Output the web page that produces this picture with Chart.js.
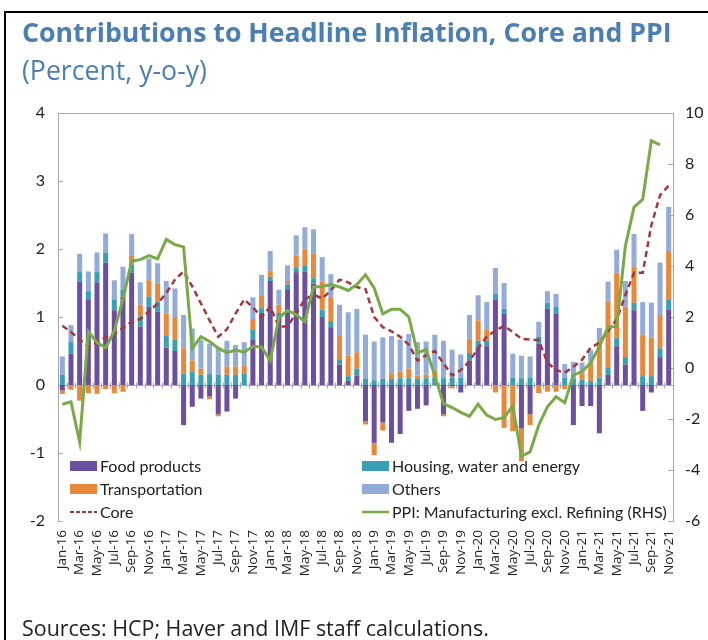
<!DOCTYPE html>
<html>
<head>
<meta charset="utf-8">
<script src="https://cdn.jsdelivr.net/npm/chart.js@4"></script>
<style>
body{margin:0;width:708px;height:640px;overflow:hidden;background:#fff;font-family:"Open Sans",sans-serif;position:relative}
#frame{position:absolute;left:4px;top:11px;width:740px;height:700px;border:2px solid #000}
#title{position:absolute;left:22px;top:16px;font-weight:bold;font-size:26px;color:#4b7fb1;white-space:nowrap;line-height:1.2}
#sub{position:absolute;left:22px;top:54px;font-size:22px;color:#4b7fb1;white-space:nowrap;line-height:1.2}
#src{position:absolute;left:22px;top:615px;font-size:20px;color:#222;white-space:nowrap;line-height:1.2}
canvas{position:absolute;left:0;top:0}
</style>
</head>
<body>
<div id="frame"></div>
<canvas id="chart" width="708" height="640"></canvas>
<div id="title">Contributions to Headline Inflation, Core and PPI</div>
<div id="sub">(Percent, y-o-y)</div>
<div id="src">Sources: HCP; Haver and IMF staff calculations.</div>
<script>
let monthNames=["Jan","Feb","Mar","Apr","May","Jun","Jul","Aug","Sep","Oct","Nov","Dec"];
let years=["16","17","18","19","20","21"];
let labels=[];
years.forEach(y=>{
monthNames.forEach(m=>{
labels.push(m+"-"+y);
});
});
labels=labels.slice(0,71);

let food=[
-0.08,0.46,1.52,1.25,1.51,1.80,1.10,1.30,1.65,0.86,1.15,1.08,
0.55,0.50,-0.59,-0.32,-0.20,-0.17,-0.43,-0.39,-0.20,0,0.67,1.06,
1.53,0.99,1.41,1.66,1.67,1.49,1.00,0.85,0.30,0.06,0.14,-0.53,
-0.85,-0.55,-0.85,-0.72,-0.38,-0.35,-0.30,0,-0.43,-0.02,-0.11,0.36,
0.55,0.57,1.26,1.05,0,-0.64,-0.43,0.61,1.12,1.05,0,-0.59,
-0.31,-0.31,-0.71,0.15,0.57,0.30,1.10,-0.38,-0.11,0.41,1.11];

let housing=[
0.15,0.17,0.14,0.13,0.15,0.15,0.16,0.10,0.12,0.15,0.15,0.14,
0.17,0.17,0.17,0.19,0.15,0.16,0.15,0.15,0.15,0.17,0.15,0.07,
0.06,0.07,0.07,0.06,0.08,0.08,0.11,0.09,0.08,0.07,0.10,0.09,
0.07,0.09,0.09,0.10,0.10,0.09,0.10,0.11,0.10,0.11,0.11,0.11,
0.10,0.08,0.08,0.07,0.11,0.10,0.11,0.10,0.09,0.10,0.11,0.10,
0.08,0.06,0.11,0.10,0.12,0.11,0.11,0.13,0.13,0.13,0.14];

let transport=[
-0.05,-0.07,-0.23,-0.12,-0.13,-0.06,-0.12,-0.10,0.13,0.17,0.24,0.27,
0.33,0.33,0.37,0.17,0.09,-0.04,-0.03,0.12,0.12,0.12,0.15,0.18,
0.09,0.12,0.05,0.18,0.24,0.36,0.41,0.34,0.34,0.30,0.24,-0.05,
-0.18,-0.12,0.07,0.10,0.14,0.05,0.05,0.10,-0.03,-0.03,0,0.21,
0.30,0.17,-0.11,-0.63,-0.68,-0.48,-0.16,-0.12,-0.10,-0.10,-0.06,0,
0.08,0.27,0.55,0.97,0.96,0.74,0.53,0.61,0.57,0.49,0.72];

let others=[
0.27,0.25,0.27,0.29,0.29,0.28,0.28,0.34,0.32,0.33,0.32,0.30,
0.48,0.42,0.49,0.47,0.42,0.45,0.40,0.38,0.32,0.34,0.32,0.31,
0.29,0.22,0.23,0.30,0.33,0.36,0.36,0.35,0.46,0.64,0.64,0.65,
0.57,0.61,0.56,0.47,0.51,0.49,0.49,0.53,0.55,0.41,0.34,0.35,
0.37,0.40,0.38,0.38,0.35,0.33,0.31,0.22,0.17,0.19,0.20,0.24,
0.17,0.18,0.18,0.30,0.34,0.38,0.48,0.48,0.51,0.77,0.65];

let core=[
0.87,0.78,0.67,0.56,0.63,0.70,0.76,0.84,0.93,0.97,1.08,1.20,
1.35,1.55,1.67,1.45,1.20,0.95,0.71,0.82,1.05,1.26,1.14,1.00,
1.15,0.86,0.86,1.06,1.26,1.33,1.27,1.39,1.55,1.51,1.44,1.41,
1.00,0.85,0.79,0.71,0.59,0.36,0.44,0.50,0.32,0.14,0.22,0.35,
0.54,0.71,0.80,0.87,0.78,0.68,0.67,0.66,0.33,0.22,0.18,0.27,
0.37,0.55,0.62,0.79,0.96,1.32,1.65,1.65,2.35,2.79,2.93];

let ppi=[
-1.42,-1.33,-2.90,1.43,1.00,0.80,1.45,2.70,4.19,4.25,4.41,4.28,
5.04,4.84,4.75,0.77,1.23,1.04,0.78,0.60,0.70,0.62,0.85,0.82,
0.29,1.96,2.26,2.09,1.82,3.18,3.20,3.27,3.18,3.04,3.27,3.66,
3.14,2.12,2.30,2.30,2.00,0.58,0.73,-0.30,-1.40,-1.55,-1.74,-1.90,
-1.42,-1.85,-2.02,-1.95,-1.48,-3.46,-3.29,-2.24,-1.52,-1.13,-1.36,-0.28,
-0.14,0.20,0.84,1.60,1.64,4.78,6.31,6.61,8.91,8.75,null];

let cFood="#6c4f9e";
let cHousing="#3a9fb4";
let cTransport="#e8883a";
let cOthers="#93abd9";
let cCore="#a3383c";
let cPpi="#7aaa48";
let axisGrey="#a8a8a8";

// stretch the header texts to the width they have in the original
function fitWidth(id,target){
let el=document.getElementById(id);
let size=parseFloat(getComputedStyle(el).fontSize);
let w=el.getBoundingClientRect().width;
el.style.fontSize=(size*target/w).toFixed(2)+"px";
}
fitWidth("title",650);
fitWidth("sub",185);
fitWidth("src",467);

// zero line, top line and inward tick marks
let axisDeco={
id:"axisDeco",
beforeDatasetsDraw(chart){
let ctx=chart.ctx;
let a=chart.chartArea;
let x=chart.scales.x;
let y=chart.scales.y;
let y2=chart.scales.y2;
let step=x.getPixelForValue(1)-x.getPixelForValue(0);
ctx.save();
ctx.strokeStyle=axisGrey;
ctx.lineWidth=1;
ctx.beginPath();
ctx.moveTo(a.left,a.top+0.5);
ctx.lineTo(a.right,a.top+0.5);
let z=Math.round(y.getPixelForValue(0))+0.5;
ctx.moveTo(a.left,z);
ctx.lineTo(a.right,z);
for(let i=0;i<labels.length;i++){
let px=Math.round(x.getPixelForValue(i)-step/2)+0.5;
ctx.moveTo(px,z-3);
ctx.lineTo(px,z+3);
}
y.ticks.forEach(t=>{
let py=Math.round(y.getPixelForValue(t.value))+0.5;
ctx.moveTo(a.left,py);
ctx.lineTo(a.left+5,py);
});
y2.ticks.forEach(t=>{
let py=Math.round(y2.getPixelForValue(t.value))+0.5;
ctx.moveTo(a.right,py);
ctx.lineTo(a.right-5,py);
});
ctx.stroke();
ctx.restore();
}
};

let legendDraw={
id:"legendDraw",
afterDatasetsDraw(chart){
let ctx=chart.ctx;
let a=chart.chartArea;
let items=[
{t:"Food products",c:cFood,k:"box",col:0,row:0},
{t:"Housing, water and energy",c:cHousing,k:"box",col:1,row:0},
{t:"Transportation",c:cTransport,k:"box",col:0,row:1},
{t:"Others",c:cOthers,k:"box",col:1,row:1},
{t:"Core",c:cCore,k:"dash",col:0,row:2},
{t:"PPI: Manufacturing excl. Refining (RHS)",c:cPpi,k:"line",col:1,row:2}
];
ctx.save();
ctx.font="16px Lato";
ctx.textBaseline="middle";
items.forEach(it=>{
let sx=a.left+12+it.col*292;
let sy=a.bottom-55+it.row*23;
if(it.k=="box"){
ctx.fillStyle=it.c;
ctx.fillRect(sx,sy-5,27,10);
}else{
ctx.strokeStyle=it.c;
ctx.lineWidth=it.k=="dash"?2:2.5;
ctx.setLineDash(it.k=="dash"?[4,2]:[]);
ctx.beginPath();
ctx.moveTo(sx,sy);
ctx.lineTo(sx+27,sy);
ctx.stroke();
ctx.setLineDash([]);
}
ctx.fillStyle="#222";
ctx.fillText(it.t,sx+30,sy+1);
});
ctx.restore();
}
};

new Chart(document.getElementById("chart"),{
type:"bar",
data:{
labels:labels,
datasets:[
{label:"Food products",data:food,backgroundColor:cFood,stack:"s",order:2,barPercentage:0.58,categoryPercentage:1},
{label:"Housing, water and energy",data:housing,backgroundColor:cHousing,stack:"s",order:2,barPercentage:0.58,categoryPercentage:1},
{label:"Transportation",data:transport,backgroundColor:cTransport,stack:"s",order:2,barPercentage:0.58,categoryPercentage:1},
{label:"Others",data:others,backgroundColor:cOthers,stack:"s",order:2,barPercentage:0.58,categoryPercentage:1},
{type:"line",label:"Core",data:core,borderColor:cCore,borderWidth:2.5,borderDash:[6,4],pointRadius:0,fill:false,tension:0,order:1,yAxisID:"y"},
{type:"line",label:"PPI: Manufacturing excl. Refining (RHS)",data:ppi,borderColor:cPpi,borderWidth:3,pointRadius:0,fill:false,tension:0,order:0,yAxisID:"y2"}
]
},
options:{
responsive:false,
devicePixelRatio:1,
animation:false,
layout:{padding:{top:113,left:0,right:0,bottom:0}},
plugins:{legend:{display:false},tooltip:{enabled:false}},
scales:{
x:{
stacked:true,
grid:{display:false,drawTicks:false},
border:{display:false},
ticks:{
autoSkip:false,
minRotation:90,
maxRotation:90,
padding:9,
color:"#222",
font:{family:"Open Sans",size:13.5},
callback:function(v,i){return i%2==0?this.getLabelForValue(v):"";}
},
afterFit(s){s.height=119;}
},
y:{
stacked:true,
position:"left",
min:-2,
max:4,
grid:{display:false,drawTicks:false},
border:{display:true,color:axisGrey,width:1},
ticks:{stepSize:1,padding:13,color:"#222",font:{family:"Lato",size:16}},
afterFit(s){s.width=58;}
},
y2:{
position:"right",
min:-6,
max:10,
grid:{display:false,drawTicks:false},
border:{display:true,color:axisGrey,width:1},
ticks:{stepSize:2,padding:12,color:"#222",font:{family:"Lato",size:16}},
afterFit(s){s.width=35;}
}
}
},
plugins:[axisDeco,legendDraw]
});
</script>
</body>
</html>
